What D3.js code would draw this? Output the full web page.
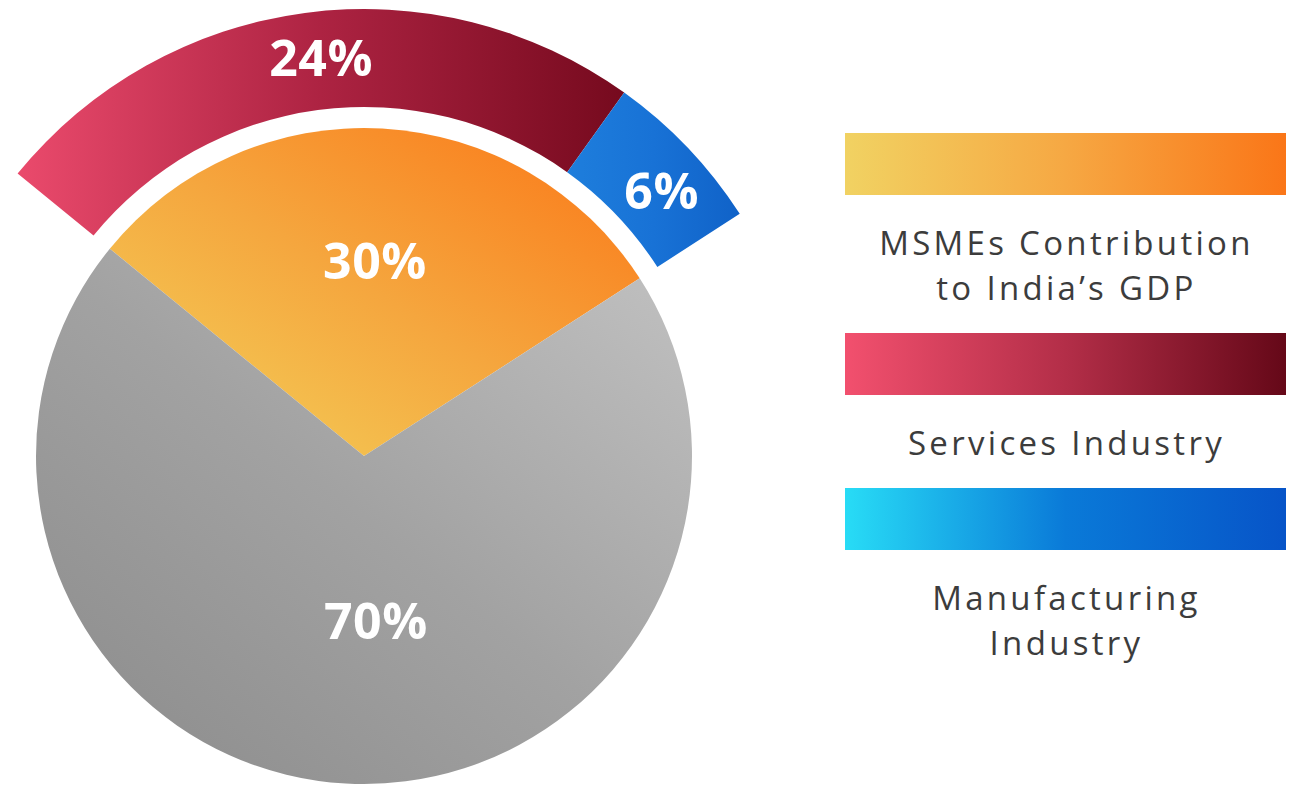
<!doctype html>
<html lang="en">
  <head>
    <meta charset="utf-8">
    <title>MSMEs Contribution to India's GDP</title>
    <style>
      body{
        margin: 0;
        background: #fff;
      }
      #chart{
        display: block;
      }
    </style>
  </head>
  <body>
    <svg id="chart" width="1296" height="785"></svg>
    <script src="https://d3js.org/d3.v7.min.js"></script>
    <script>

      //inner pie: share of GDP
      var pieNames = ["MSMEs Contribution", "Rest of GDP"];
      var pieValues = [30, 70];

      //outer ring: split of the MSME share
      var ringNames = ["Services Industry", "Manufacturing Industry"];
      var ringValues = [24, 6];

      //legend entries (one array of lines per entry)
      var legendNames = [
        ["MSMEs Contribution", "to India\u2019s GDP"],
        ["Services Industry"],
        ["Manufacturing", "Industry"]
      ];

      var svg = d3.select("#chart");
      var defs = svg.append("defs");

      //gradients
      var gradients = [
        {id: "gOrange", x1: 0, y1: 1, x2: 1, y2: 0, stops: ["#f3d45c", "#f5a63e", "#fb7616"]},
        {id: "gGray", x1: 1, y1: 0, x2: 0, y2: 1, stops: ["#c2c2c2", "#a2a2a2", "#8a8a8a"]},
        {id: "gRed", x1: 0, y1: 0, x2: 1, y2: 0, stops: ["#ea4a6c", "#ad2342", "#760a1e"]},
        {id: "gBlue", x1: 0, y1: 0, x2: 1, y2: 0, stops: ["#1e7edc", "#1872d6", "#1062c8"]},
        {id: "lOrange", x1: 0, y1: 0, x2: 1, y2: 0, stops: ["#f1d262", "#f6a843", "#fa7618"]},
        {id: "lRed", x1: 0, y1: 0, x2: 1, y2: 0, stops: ["#f2506e", "#b32e48", "#650818"]},
        {id: "lBlue", x1: 0, y1: 0, x2: 1, y2: 0, stops: ["#28dcf6", "#0a7ad8", "#0754c8"]}
      ];

      gradients.forEach(function(g){
        var lg = defs.append("linearGradient")
          .attr("id", g.id)
          .attr("x1", g.x1).attr("y1", g.y1)
          .attr("x2", g.x2).attr("y2", g.y2);
        g.stops.forEach(function(c, i){
          lg.append("stop")
            .attr("offset", (i / (g.stops.length - 1) * 100) + "%")
            .attr("stop-color", c);
        });
      });

      var pieFills = ["url(#gOrange)", "url(#gGray)"];
      var ringFills = ["url(#gRed)", "url(#gBlue)"];
      var legendFills = ["url(#lOrange)", "url(#lRed)", "url(#lBlue)"];

      //geometry
      var cx = 364, cy = 456;
      var radius = 328;
      var ringInner = 349, ringOuter = 447;
      var start = -50.8 * Math.PI / 180;

      var total = d3.sum(pieValues);

      var pie = d3.pie().sort(null)
        .startAngle(start)
        .endAngle(start + 2 * Math.PI);

      //the ring only covers the msme slice
      var ring = d3.pie().sort(null)
        .startAngle(start)
        .endAngle(start + 2 * Math.PI * d3.sum(ringValues) / total);

      var pieArc = d3.arc().innerRadius(0).outerRadius(radius);
      var ringArc = d3.arc().innerRadius(ringInner).outerRadius(ringOuter);

      var g = svg.append("g").attr("transform", "translate(" + cx + "," + cy + ")");

      var pieData = pie(pieValues);
      var ringData = ring(ringValues);

      g.selectAll("path.pie")
        .data(pieData)
        .enter()
        .append("path")
        .attr("class", "pie")
        .attr("d", pieArc)
        .style("fill", function(d, i){ return pieFills[i]; });

      g.selectAll("path.ring")
        .data(ringData)
        .enter()
        .append("path")
        .attr("class", "ring")
        .attr("d", ringArc)
        .style("fill", function(d, i){ return ringFills[i]; });

      //value labels
      var labelStyle = function(sel){
        sel.attr("text-anchor", "middle")
          .attr("dominant-baseline", "central")
          .style("font-family", "'Open Sans', 'DejaVu Sans', sans-serif")
          .style("font-weight", "700")
          .style("font-size", "50px")
          .style("letter-spacing", "0.5px")
          .style("fill", "#fff");
      };

      var pieLabelArc = [d3.arc().innerRadius(196).outerRadius(196), d3.arc().innerRadius(164).outerRadius(164)];
      var pieNudge = [0, 21];

      g.selectAll("text.pie")
        .data(pieData)
        .enter()
        .append("text")
        .attr("class", "pie")
        .attr("x", function(d, i){ return pieLabelArc[i].centroid(d)[0] + pieNudge[i]; })
        .attr("y", function(d, i){ return pieLabelArc[i].centroid(d)[1]; })
        .call(labelStyle)
        .text(function(d){ return d.data + "%"; });

      var ringLabelArc = d3.arc().innerRadius(400).outerRadius(400);
      var ringNudge = [[10, -3], [8, 10]];

      g.selectAll("text.ring")
        .data(ringData)
        .enter()
        .append("text")
        .attr("class", "ring")
        .attr("x", function(d, i){ return ringLabelArc.centroid(d)[0] + ringNudge[i][0]; })
        .attr("y", function(d, i){ return ringLabelArc.centroid(d)[1] + ringNudge[i][1]; })
        .call(labelStyle)
        .text(function(d){ return d.data + "%"; });

      //legend
      var legX = 845, legW = 441, barH = 62;
      var firstGap = 60, lineH = 45, afterGap = 33;
      var y = 133;

      legendNames.forEach(function(lines, i){
        svg.append("rect")
          .attr("x", legX)
          .attr("y", y)
          .attr("width", legW)
          .attr("height", barH)
          .style("fill", legendFills[i]);

        var base = y + barH + firstGap;

        //one text per line so the lines keep apart
        lines.forEach(function(line, j){
          svg.append("text")
            .attr("text-anchor", "middle")
            .attr("x", legX + legW / 2 + 1)
            .attr("y", base + j * lineH)
            .style("font-family", "'Open Sans', 'DejaVu Sans', sans-serif")
            .style("font-size", "33px")
            .style("letter-spacing", "3.3px")
            .style("fill", "#3c3c3c")
            .text(line);
        });

        y = base + (lines.length - 1) * lineH + afterGap;
      });

    </script>
  </body>
</html>
